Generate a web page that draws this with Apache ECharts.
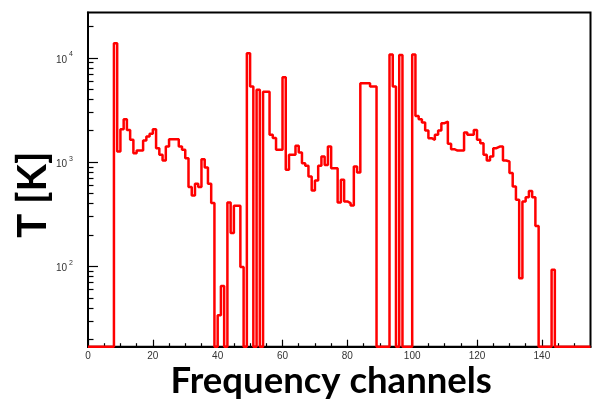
<!DOCTYPE html>
<html><head><meta charset="utf-8">
<script src="https://cdn.jsdelivr.net/npm/echarts@6/dist/echarts.min.js"></script>
<style>html,body{margin:0;padding:0;background:#fff}#c{width:592px;height:399px}</style>
</head><body><div id="c"></div>
<script>
// Histogram: temperature per frequency channel (bin i spans [i, i+1]); 0 = empty bin
const tValues = [
  0, 0, 0, 0, 0, 0, 0, 0, 13800, 1263,
  2070, 2583, 2037, 1635, 1219, 1291, 1291, 1610, 1758, 1866,
  2070, 1361, 1175, 1036, 1411, 1660, 1660, 1660, 1411, 1312,
  1092, 576, 479, 620, 576, 1068, 887, 620, 405, 0,
  34, 65, 0, 410, 209, 381, 381, 99, 0, 11070,
  5300, 0, 4930, 0, 4740, 4740, 1826, 1700, 1312, 1312,
  6520, 844, 1175, 1175, 1432, 1236, 978, 922, 728, 534,
  667, 922, 1132, 940, 1411, 876, 876, 410, 677, 420,
  405, 384, 908, 795, 5710, 5710, 5710, 5300, 5300, 0,
  0, 0, 0, 10780, 5300, 0, 10670, 0, 0, 0,
  10780, 2775, 2583, 2393, 2009, 1698, 1635, 1826, 2009, 2364,
  2448, 1497, 1332, 1291, 1291, 1291, 1923, 1826, 1826, 2037,
  1635, 1520, 1175, 1036, 1132, 1361, 1411, 1411, 1036, 1014,
  785, 584, 435, 77, 420, 460, 528, 460, 244, 0,
  0, 0, 0, 93, 0, 0, 0, 0, 0, 0,
  0, 0, 0, 0, 0
];
const xMajorTicks = [0, 20, 40, 60, 80, 100, 120, 140];
const xMinorTicks = [5, 10, 15, 25, 30, 35, 45, 50, 55, 65, 70, 75, 85, 90, 95, 105, 110, 115, 125, 130, 135, 145, 150];
const yMajorTicks = [100, 1000, 10000];
const yMinorTicks = [20, 30, 40, 50, 60, 70, 80, 90, 200, 300, 400, 500, 600, 700, 800, 900,
  2000, 3000, 4000, 5000, 6000, 7000, 8000, 9000, 20000];
const X_MIN = 0, X_MAX = 155, Y_MIN = 17, Y_MAX = 27200;
const xTitle = 'Frequency channels';
const yTitle = 'T [K]';

// step outline: point at each bin's low edge, plus closing point at last bin's high edge
const stepData = tValues.map((v, i) => [i, v > 0 ? v : Y_MIN]);
stepData.push([tValues.length, tValues[tValues.length - 1] > 0 ? tValues[tValues.length - 1] : Y_MIN]);

const labelFont = 'Liberation Sans, Arial, sans-serif';
const chart = echarts.init(document.getElementById('c'), null, {renderer: 'canvas'});
chart.setOption({
  animation: false,
  backgroundColor: '#fff',
  grid: {left: 88, right: 1.5, top: 12.5, bottom: 52.3, show: true, borderColor: '#000', borderWidth: 2,
         backgroundColor: 'transparent', outerBoundsMode: 'none', containLabel: false},
  xAxis: [{
    type: 'value', min: X_MIN, max: X_MAX,
    axisLine: {show: true, onZero: false, lineStyle: {color: '#000', width: 2}},
    axisTick: {show: true, inside: true, length: 7, customValues: xMajorTicks, lineStyle: {color: '#000', width: 1.2}},
    axisLabel: {customValues: xMajorTicks, margin: 5, fontSize: 10, color: '#333', fontFamily: labelFont},
    splitLine: {show: false},
    name: xTitle, nameLocation: 'middle', nameGap: 16, nameMoveOverlap: false,
    nameTextStyle: {fontFamily: 'Lato', fontWeight: 'bold', fontSize: 36.5, color: '#000', padding: [0, 16, 0, 0]}
  }, {
    type: 'value', min: X_MIN, max: X_MAX, position: 'bottom',
    axisLine: {show: false},
    axisTick: {show: true, inside: true, length: 3.5, customValues: xMinorTicks, lineStyle: {color: '#000', width: 1.2}},
    axisLabel: {show: false}, splitLine: {show: false}
  }],
  yAxis: [{
    type: 'log', logBase: 10, min: Y_MIN, max: Y_MAX,
    axisLine: {show: true, onZero: false, lineStyle: {color: '#000', width: 2}},
    axisTick: {show: true, inside: true, length: 10, customValues: yMajorTicks, lineStyle: {color: '#000', width: 1.2}},
    axisLabel: {
      customValues: yMajorTicks, margin: 15,
      formatter: v => '{b|10}{s|' + Math.round(Math.log10(v)) + '}',
      rich: {
        b: {fontSize: 10, color: '#333', fontFamily: labelFont, verticalAlign: 'bottom', lineHeight: 14},
        s: {fontSize: 7, color: '#333', fontFamily: labelFont, verticalAlign: 'top', lineHeight: 14, padding: [0, 0, 0, 2]}
      }
    },
    splitLine: {show: false},
    name: yTitle, nameLocation: 'middle', nameGap: 35, nameRotate: 90, nameMoveOverlap: false,
    nameTextStyle: {fontFamily: 'Lato', fontWeight: 'bold', fontSize: 40, color: '#000', padding: [0, 30, 0, 0]}
  }, {
    type: 'log', logBase: 10, min: Y_MIN, max: Y_MAX, position: 'left',
    axisLine: {show: false},
    axisTick: {show: true, inside: true, length: 5.5, customValues: yMinorTicks, lineStyle: {color: '#000', width: 1.2}},
    axisLabel: {show: false}, splitLine: {show: false}
  }],
  series: [{
    type: 'line', xAxisIndex: 0, yAxisIndex: 0,
    data: stepData, step: 'end', showSymbol: false, symbol: 'none',
    lineStyle: {color: '#ff0000', width: 2.5}, clip: true
  }]
});
</script>
</body></html>
